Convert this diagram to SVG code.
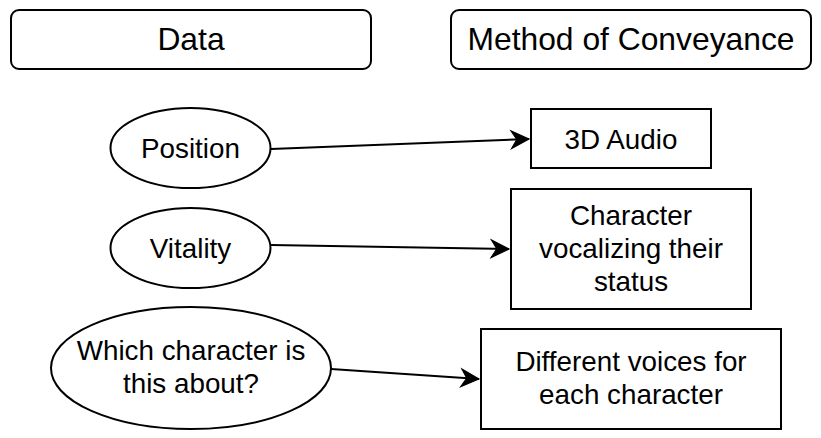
<svg xmlns="http://www.w3.org/2000/svg" width="821" height="438" viewBox="0 0 821 438">
<style>
.s{fill:#fff;stroke:#000;stroke-width:2}
.t{font-family:"Liberation Sans",Arial,sans-serif;font-size:27.8px;fill:#000;text-anchor:middle}
.h{font-size:31.8px}
.c{fill:none;stroke:#000;stroke-width:2}
</style>
<defs>
<marker id="a" markerUnits="userSpaceOnUse" markerWidth="20" markerHeight="20" viewBox="-17 -9 18 18" refX="0" refY="0" orient="auto" overflow="visible">
<path d="M0,0 L-16,-8 L-11,0 L-16,8 Z" fill="#000" stroke="#000" stroke-width="1"/>
</marker>
</defs>
<g id="data"><rect class="s" x="11" y="10" width="360" height="59" rx="8"/><text class="t h" x="191" y="50">Data</text></g>
<g id="method"><rect class="s" x="451" y="10" width="360" height="59" rx="8"/><text class="t h" x="631" y="50">Method of Conveyance</text></g>
<g id="position"><ellipse class="s" cx="190.5" cy="148" rx="80" ry="40"/><text class="t" x="190.5" y="158">Position</text></g>
<g id="vitality"><ellipse class="s" cx="190.5" cy="248" rx="80" ry="40"/><text class="t" x="190.5" y="258">Vitality</text></g>
<g id="which"><ellipse class="s" cx="191" cy="368" rx="140" ry="61"/><text class="t" x="191" y="360">Which character is</text><text class="t" x="191" y="393">this about?</text></g>
<g id="audio"><rect class="s" x="531" y="109" width="180" height="59"/><text class="t" x="621" y="149">3D Audio</text></g>
<g id="vocal"><rect class="s" x="511" y="189" width="240" height="120"/><text class="t" x="631" y="225">Character</text><text class="t" x="631" y="258">vocalizing their</text><text class="t" x="631" y="291">status</text></g>
<g id="voices"><rect class="s" x="481" y="329" width="300" height="100"/><text class="t" x="631" y="371">Different voices for</text><text class="t" x="631" y="404">each character</text></g>
<g id="connectors">
<line class="c" x1="271" y1="149" x2="529" y2="139" marker-end="url(#a)"/>
<line class="c" x1="271" y1="245" x2="509" y2="249" marker-end="url(#a)"/>
<line class="c" x1="331" y1="369" x2="479" y2="379" marker-end="url(#a)"/>
</g>
</svg>
